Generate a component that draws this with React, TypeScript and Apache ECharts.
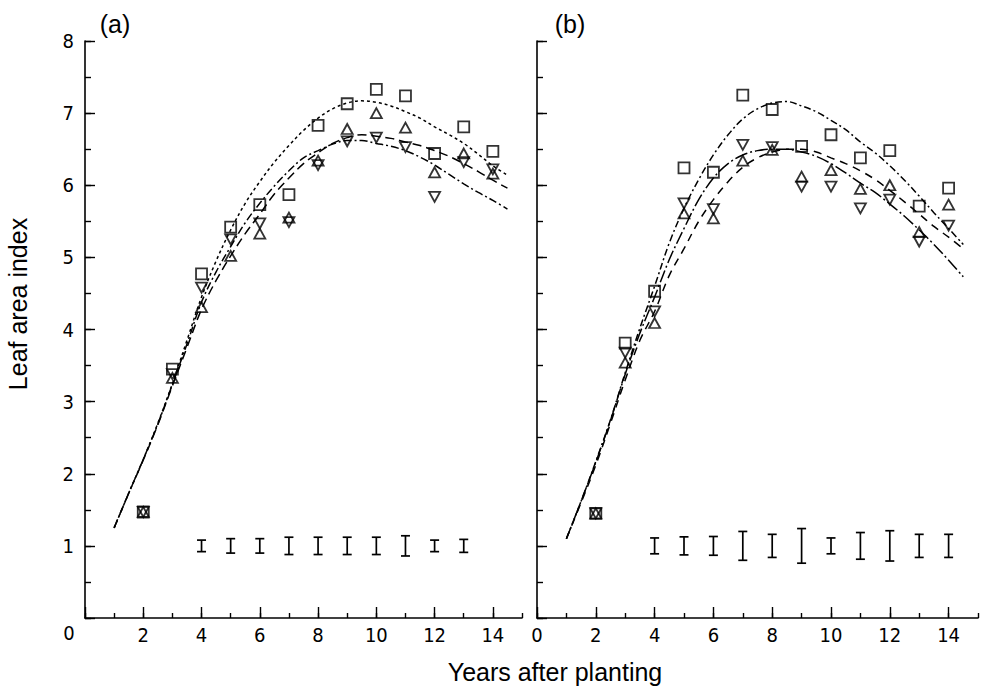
import React, { useEffect, useRef } from 'react';
import * as echarts from 'echarts';

// ---- data ----
const years = [2, 3, 4, 5, 6, 7, 8, 9, 10, 11, 12, 13, 14];

// Panel (a) observations
const aSquare = [1.47, 3.45, 4.77, 5.42, 5.73, 5.87, 6.83, 7.13, 7.33, 7.24, 6.44, 6.81, 6.47];
const aUp = [1.47, 3.33, 4.31, 5.02, 5.33, 5.55, 6.34, 6.78, 7.0, 6.8, 6.18, 6.44, 6.16];
const aDown = [1.47, 3.38, 4.58, 5.25, 5.47, 5.49, 6.28, 6.61, 6.66, 6.53, 5.84, 6.32, 6.22];

// Panel (b) observations
const bSquare = [1.45, 3.81, 4.53, 6.24, 6.18, 7.25, 7.05, 6.54, 6.7, 6.38, 6.48, 5.71, 5.96];
const bUp = [1.45, 3.54, 4.09, 5.61, 5.54, 6.34, 6.49, 6.12, 6.21, 5.95, 6.0, 5.35, 5.73];
const bDown = [1.45, 3.68, 4.25, 5.75, 5.67, 6.56, 6.53, 5.98, 5.98, 5.68, 5.8, 5.22, 5.44];

// Fitted curves
const curveX = [1, 1.5, 2, 2.5, 3, 3.5, 4, 4.5, 5, 5.5, 6, 6.5, 7, 7.5, 8, 8.5, 9, 9.5, 10, 10.5, 11, 11.5, 12, 12.5, 13, 13.5, 14, 14.5];
const aCurveUpper = [1.25, 1.73, 2.2, 2.7, 3.25, 3.85, 4.45, 4.95, 5.38, 5.75, 6.05, 6.32, 6.55, 6.76, 6.93, 7.06, 7.14, 7.17, 7.15, 7.1, 7.02, 6.93, 6.81, 6.7, 6.58, 6.43, 6.27, 6.14];
const aCurveDashed = [1.25, 1.73, 2.19, 2.68, 3.22, 3.75, 4.28, 4.68, 5.02, 5.33, 5.6, 5.88, 6.1, 6.3, 6.45, 6.58, 6.66, 6.7, 6.68, 6.65, 6.6, 6.55, 6.48, 6.4, 6.3, 6.19, 6.07, 5.96];
const aCurveDashDot = [1.25, 1.73, 2.2, 2.69, 3.24, 3.8, 4.38, 4.8, 5.15, 5.48, 5.75, 5.99, 6.2, 6.38, 6.48, 6.57, 6.62, 6.62, 6.58, 6.54, 6.48, 6.39, 6.28, 6.15, 6.02, 5.9, 5.79, 5.67];

const bCurveUpper = [1.1, 1.62, 2.17, 2.75, 3.4, 4.02, 4.6, 5.2, 5.68, 6.08, 6.42, 6.7, 6.92, 7.06, 7.14, 7.16, 7.1, 7.02, 6.9, 6.77, 6.6, 6.45, 6.27, 6.07, 5.85, 5.62, 5.4, 5.18];
const bCurveDashed = [1.1, 1.6, 2.12, 2.7, 3.3, 3.85, 4.25, 4.75, 5.12, 5.5, 5.8, 6.05, 6.25, 6.38, 6.46, 6.5, 6.5, 6.46, 6.38, 6.3, 6.2, 6.08, 5.93, 5.77, 5.6, 5.43, 5.28, 5.12];
const bCurveDashDot = [1.1, 1.62, 2.16, 2.74, 3.38, 3.95, 4.45, 4.97, 5.4, 5.8, 6.1, 6.3, 6.42, 6.48, 6.5, 6.5, 6.46, 6.4, 6.3, 6.17, 6.03, 5.9, 5.74, 5.57, 5.38, 5.18, 4.96, 4.73];

// Error bars (centred at 1.0)
const errCentre = 1.0;
const aErrYears = [4, 5, 6, 7, 8, 9, 10, 11, 12, 13];
const aErr = [0.08, 0.1, 0.1, 0.12, 0.12, 0.12, 0.12, 0.14, 0.08, 0.09];
const bErrYears = [4, 5, 6, 7, 8, 9, 10, 11, 12, 13, 14];
const bErr = [0.11, 0.125, 0.13, 0.2, 0.16, 0.24, 0.11, 0.185, 0.21, 0.16, 0.16];

const xTickLabels = [0, 2, 4, 6, 8, 10, 12, 14];
const yTickLabels = [1, 2, 3, 4, 5, 6, 7, 8];

// ---- styling helpers ----
const INK = '#000';
const TICK_FONT = "'Liberation Sans Narrow', 'DejaVu Sans Condensed', 'Liberation Sans', sans-serif";
const TITLE_FONT = "'Liberation Sans', Arial, sans-serif";

const zip = (xs: number[], ys: number[]) => xs.map((x, i) => [x, ys[i]]);

function curve(grid: number, ys: number[], dash: number[]) {
  return {
    type: 'line',
    xAxisIndex: grid * 2,
    yAxisIndex: grid * 2,
    data: zip(curveX, ys),
    showSymbol: false,
    symbol: 'none',
    smooth: 0.35,
    lineStyle: { color: INK, width: 1.5, type: dash },
    silent: true,
    z: 2,
  };
}

function markers(grid: number, ys: number[], kind: 'square' | 'up' | 'down') {
  return {
    type: 'scatter',
    xAxisIndex: grid * 2,
    yAxisIndex: grid * 2,
    data: zip(years, ys),
    symbol: kind === 'square' ? 'rect' : 'triangle',
    symbolRotate: kind === 'down' ? 180 : 0,
    symbolSize: kind === 'square' ? 11 : [11, 10],
    itemStyle: { color: 'rgba(255,255,255,0)', borderColor: INK, borderWidth: 1.8 },
    z: 3,
  };
}

function errorBars(grid: number, xs: number[], es: number[]) {
  return {
    type: 'custom',
    xAxisIndex: grid * 2,
    yAxisIndex: grid * 2,
    data: xs.map((x, i) => [x, errCentre, es[i]]),
    renderItem: (_p: any, api: any) => {
      const x = api.value(0);
      const y = api.value(1);
      const e = api.value(2);
      const top = api.coord([x, y + e]);
      const bot = api.coord([x, y - e]);
      const w = 4.5;
      const st = { stroke: INK, lineWidth: 1.7 };
      return {
        type: 'group',
        children: [
          { type: 'line', shape: { x1: top[0], y1: top[1], x2: bot[0], y2: bot[1] }, style: st },
          { type: 'line', shape: { x1: top[0] - w, y1: top[1], x2: top[0] + w, y2: top[1] }, style: st },
          { type: 'line', shape: { x1: bot[0] - w, y1: bot[1], x2: bot[0] + w, y2: bot[1] }, style: st },
        ],
      };
    },
    z: 3,
  };
}

function xAxes(grid: number, showZero: boolean) {
  return [
    {
      type: 'value', gridIndex: grid, position: 'bottom', min: 0, max: 15, interval: 1,
      axisLine: { show: true, lineStyle: { color: INK, width: 1.6 } },
      axisTick: { show: true, inside: true, length: 5, lineStyle: { color: INK, width: 1.4 } },
      splitLine: { show: false },
      axisLabel: {
        show: true, margin: 7, fontSize: 20, color: INK, fontFamily: TICK_FONT,
        formatter: (v: number) => (xTickLabels.includes(v) && (showZero || v !== 0) ? String(v) : ''),
      },
    },
    {
      type: 'value', gridIndex: grid, position: 'bottom', min: 0, max: 15,
      axisLine: { show: false },
      axisTick: { show: true, inside: true, length: 11, customValues: xTickLabels, lineStyle: { color: INK, width: 1.4 } },
      splitLine: { show: false },
      axisLabel: { show: false },
    },
  ];
}

function yAxes(grid: number, showLabels: boolean) {
  return [
    {
      type: 'value', gridIndex: grid, position: 'left', min: 0, max: 8, interval: 1,
      axisLine: { show: true, lineStyle: { color: INK, width: 1.6 } },
      axisTick: { show: true, inside: true, length: 10, lineStyle: { color: INK, width: 1.4 } },
      splitLine: { show: false },
      axisLabel: {
        show: showLabels, margin: 11, fontSize: 20, color: INK, fontFamily: TICK_FONT,
        formatter: (v: number) => (yTickLabels.includes(v) ? String(v) : ''),
      },
    },
    {
      type: 'value', gridIndex: grid, position: 'left', min: 0, max: 8, interval: 0.5,
      axisLine: { show: false },
      axisTick: { show: true, inside: true, length: 6, lineStyle: { color: INK, width: 1.4 } },
      splitLine: { show: false },
      axisLabel: { show: false },
    },
  ];
}

const option = {
  animation: false,
  backgroundColor: '#fff',
  grid: [
    { left: 85, right: 462, top: 41, bottom: 70 },
    { left: 537, right: 6, top: 41, bottom: 70 },
  ],
  xAxis: [...xAxes(0, false), ...xAxes(1, true)],
  yAxis: [...yAxes(0, true), ...yAxes(1, false)],
  series: [
    curve(0, aCurveUpper, [3, 3]),
    curve(0, aCurveDashed, [9, 5]),
    curve(0, aCurveDashDot, [8, 3, 2, 3]),
    markers(0, aSquare, 'square'),
    markers(0, aUp, 'up'),
    markers(0, aDown, 'down'),
    errorBars(0, aErrYears, aErr),
    curve(1, bCurveUpper, [7, 3, 2, 3]),
    curve(1, bCurveDashed, [8, 6]),
    curve(1, bCurveDashDot, [13, 3, 2, 3]),
    markers(1, bSquare, 'square'),
    markers(1, bUp, 'up'),
    markers(1, bDown, 'down'),
    errorBars(1, bErrYears, bErr),
  ],
  graphic: [
    { type: 'text', x: 115, y: 24, style: { text: '(a)', fill: INK, font: `25px ${TITLE_FONT}`, textAlign: 'center', textVerticalAlign: 'middle' } },
    { type: 'text', x: 570, y: 24, style: { text: '(b)', fill: INK, font: `25px ${TITLE_FONT}`, textAlign: 'center', textVerticalAlign: 'middle' } },
    { type: 'text', x: 69, y: 633, style: { text: '0', fill: INK, font: `20px ${TICK_FONT}`, textAlign: 'center', textVerticalAlign: 'middle' } },
    { type: 'text', x: 18, y: 304, rotation: Math.PI / 2, style: { text: 'Leaf area index', fill: INK, font: `25px ${TITLE_FONT}`, textAlign: 'center', textVerticalAlign: 'middle' } },
    { type: 'text', x: 555, y: 672, style: { text: 'Years after planting', fill: INK, font: `25px ${TITLE_FONT}`, textAlign: 'center', textVerticalAlign: 'middle' } },
  ],
};

export default function App() {
  const ref = useRef<HTMLDivElement>(null);
  useEffect(() => {
    document.body.style.margin = '0';
    const chart = echarts.init(ref.current as HTMLDivElement, null, { renderer: 'svg' });
    chart.setOption(option as any);
    return () => chart.dispose();
  }, []);
  return <div ref={ref} style={{ width: 984, height: 688, background: '#fff' }} />;
}
